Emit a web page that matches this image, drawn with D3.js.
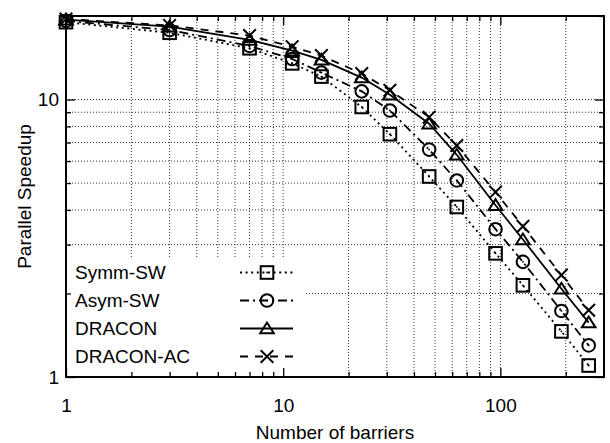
<!DOCTYPE html>
<html>
<head>
<meta charset="utf-8">
<script src="https://cdn.jsdelivr.net/npm/d3@7"></script>
<style>
  html, body { margin: 0; padding: 0; background: #fff; }
  svg { display: block; font-family: "Liberation Sans", Arial, Helvetica, sans-serif; }
</style>
</head>
<body>
<svg id="chart" width="610" height="443"></svg>
<script>
(function () {
  "use strict";

  // number of barriers on the x axis
  var barriers = [1, 3, 7, 11, 15, 23, 31, 47, 63, 95, 127, 191, 255];

  // parallel speedup per series
  var symmSW   = [19.0, 17.4, 15.3, 13.5, 12.1, 9.4, 7.5, 5.28, 4.10, 2.79, 2.14, 1.46, 1.10];
  var asymSW   = [19.2, 17.8, 15.6, 14.0, 12.5, 10.7, 9.13, 6.6, 5.11, 3.41, 2.60, 1.73, 1.30];
  var dracon   = [19.4, 18.3, 16.4, 15.0, 13.9, 12.0, 10.4, 8.18, 6.32, 4.16, 3.13, 2.08, 1.57];
  var draconAC = [19.5, 18.5, 17.0, 15.5, 14.4, 12.4, 10.8, 8.64, 6.83, 4.64, 3.49, 2.33, 1.74];

  var seriesNames = ["Symm-SW", "Asym-SW", "DRACON", "DRACON-AC"];

  var xMajor = [1, 10, 100];
  var xMinor = [2, 3, 4, 5, 6, 7, 8, 9, 20, 30, 40, 50, 60, 70, 80, 90, 200];
  var yMajor = [1, 10];
  var yMinor = [2, 3, 4, 5, 6, 7, 8, 9, 20];

  var series = [
    { name: seriesNames[0], values: symmSW,   dash: "2,3.6",      marker: "square" },
    { name: seriesNames[1], values: asymSW,   dash: "9,4,2,4",    marker: "circle" },
    { name: seriesNames[2], values: dracon,   dash: null,         marker: "triangle" },
    { name: seriesNames[3], values: draconAC, dash: "8,7",        marker: "cross" }
  ];

  var margin = { left: 66, right: 6, top: 16, bottom: 66 };
  var width = 610, height = 443;
  var plotW = width - margin.left - margin.right;
  var plotH = height - margin.top - margin.bottom;

  var x = d3.scaleLog().domain([1, 300]).range([0, plotW]);
  var y = d3.scaleLog().domain([1, 20]).range([plotH, 0]);

  var svg = d3.select("#chart");
  var g = svg.append("g").attr("transform", "translate(" + margin.left + "," + margin.top + ")");

  // grid (dotted, major + minor)
  var grid = g.append("g").attr("class", "grid")
    .attr("stroke", "#333").attr("stroke-width", 1).attr("stroke-dasharray", "1,2");
  xMajor.concat(xMinor).filter(function (v) { return v > 1; }).forEach(function (v) {
    grid.append("line").attr("x1", x(v)).attr("x2", x(v)).attr("y1", 0).attr("y2", plotH);
  });
  yMajor.concat(yMinor).filter(function (v) { return v > 1 && v < 20; }).forEach(function (v) {
    grid.append("line").attr("x1", 0).attr("x2", plotW).attr("y1", y(v)).attr("y2", y(v));
  });

  // legend background covers the grid
  var legendTop = 242;
  g.append("rect").attr("x", 0).attr("y", legendTop)
    .attr("width", 239).attr("height", plotH - legendTop).attr("fill", "#fff");

  // axes with inward ticks, mirrored
  function styleAxis(sel) {
    sel.select(".domain").remove();
    sel.selectAll(".tick line").attr("stroke", "#000").attr("stroke-width", 1.3);
    sel.selectAll(".tick text").attr("fill", "#000").style("font-size", "19px")
      .style("font-family", "'Liberation Sans', Arial, sans-serif");
  }

  var fmt = function (d) { return String(d); };

  g.append("g").attr("transform", "translate(0," + plotH + ")")
    .call(d3.axisBottom(x).tickValues(xMajor).tickSize(-9).tickPadding(22).tickFormat(fmt))
    .call(styleAxis);
  g.append("g").attr("transform", "translate(0," + plotH + ")")
    .call(d3.axisBottom(x).tickValues(xMinor).tickSize(-5).tickFormat(""))
    .call(styleAxis);
  g.append("g")
    .call(d3.axisTop(x).tickValues(xMajor).tickSize(-9).tickFormat(""))
    .call(styleAxis);
  g.append("g")
    .call(d3.axisTop(x).tickValues(xMinor).tickSize(-5).tickFormat(""))
    .call(styleAxis);

  g.append("g")
    .call(d3.axisLeft(y).tickValues(yMajor).tickSize(-9).tickPadding(7).tickFormat(fmt))
    .call(styleAxis);
  g.append("g")
    .call(d3.axisLeft(y).tickValues(yMinor).tickSize(-5).tickFormat(""))
    .call(styleAxis);
  g.append("g").attr("transform", "translate(" + plotW + ",0)")
    .call(d3.axisRight(y).tickValues(yMajor).tickSize(-9).tickFormat(""))
    .call(styleAxis);
  g.append("g").attr("transform", "translate(" + plotW + ",0)")
    .call(d3.axisRight(y).tickValues(yMinor).tickSize(-5).tickFormat(""))
    .call(styleAxis);

  // frame
  g.append("rect").attr("width", plotW).attr("height", plotH)
    .attr("fill", "none").attr("stroke", "#000").attr("stroke-width", 2);

  function drawMarker(sel, type, cx, cy) {
    var s = 6.3;
    var m = sel.append("g").attr("transform", "translate(" + cx + "," + cy + ")")
      .attr("fill", "none").attr("stroke", "#000").attr("stroke-width", 2);
    if (type === "square") {
      m.append("rect").attr("x", -s).attr("y", -s).attr("width", 2 * s).attr("height", 2 * s);
      m.append("circle").attr("r", 0.9).attr("fill", "#000").attr("stroke", "none");
    } else if (type === "circle") {
      m.append("circle").attr("r", s);
      m.append("circle").attr("r", 0.9).attr("fill", "#000").attr("stroke", "none");
    } else if (type === "triangle") {
      m.append("path").attr("d", "M" + (-s - 0.5) + "," + (s * 0.75) + "L" + (s + 0.5) + "," + (s * 0.75) + "L0," + (-s * 0.95) + "Z");
    } else if (type === "cross") {
      m.append("path").attr("d", "M" + (-s) + "," + (-s) + "L" + s + "," + s + "M" + (-s) + "," + s + "L" + s + "," + (-s));
    }
  }

  var line = d3.line()
    .x(function (d) { return x(d[0]); })
    .y(function (d) { return y(d[1]); });

  var lines = g.append("g");
  series.forEach(function (s) {
    var pts = barriers.map(function (b, i) { return [b, s.values[i]]; });
    lines.append("path").datum(pts)
      .attr("d", line)
      .attr("fill", "none").attr("stroke", "#000").attr("stroke-width", 1.8)
      .attr("stroke-dasharray", s.dash);
    pts.forEach(function (p) { drawMarker(lines, s.marker, x(p[0]), y(p[1])); });
  });

  // legend
  var legend = g.append("g");
  series.forEach(function (s, i) {
    var ly = 256.5 + i * 28;
    legend.append("text").attr("x", 9).attr("y", ly + 6.8)
      .style("font-size", "19px").attr("fill", "#000").text(s.name);
    legend.append("line").attr("x1", 174).attr("x2", 227).attr("y1", ly).attr("y2", ly)
      .attr("stroke", "#000").attr("stroke-width", 1.8).attr("stroke-dasharray", s.dash);
    drawMarker(legend, s.marker, 201, ly);
  });

  // axis titles
  svg.append("text").attr("x", margin.left + plotW / 2).attr("y", 439)
    .attr("text-anchor", "middle").style("font-size", "19px").text("Number of barriers");
  svg.append("text").attr("transform", "translate(31," + (margin.top + plotH / 2) + ") rotate(-90)")
    .attr("text-anchor", "middle").style("font-size", "19px").text("Parallel Speedup");
}());
</script>
</body>
</html>
